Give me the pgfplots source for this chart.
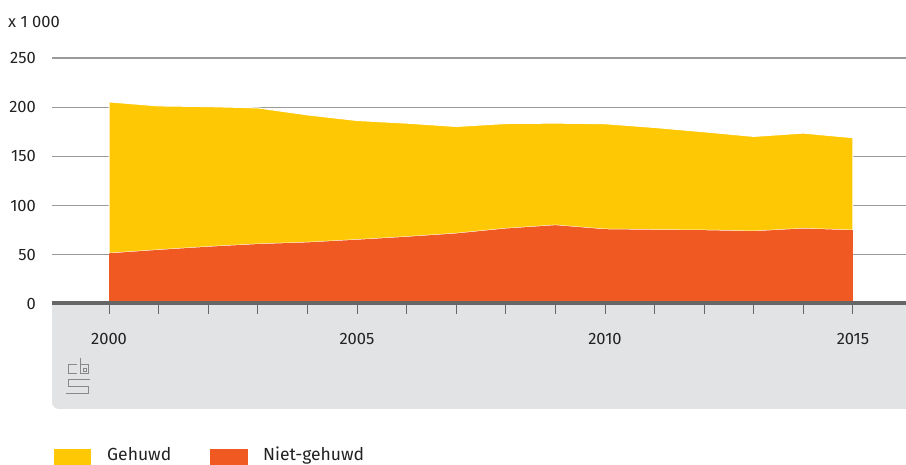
\documentclass[border=0pt]{standalone}
\usepackage{fontspec}
\setmainfont{Fira Sans}
\usepackage{pgfplots}
\pgfplotsset{compat=1.18}
\definecolor{cbsyellow}{HTML}{FFC805}
\definecolor{cbsorange}{HTML}{F05A22}
\definecolor{band}{HTML}{E2E3E5}
\definecolor{axisdark}{HTML}{666666}
\definecolor{gridg}{HTML}{9A9A9A}
\definecolor{txt}{HTML}{222222}
\definecolor{logog}{HTML}{888888}
\definecolor{logoin}{HTML}{EDEDED}
\begin{document}
\fontsize{16.5}{19}\selectfont
\begin{tikzpicture}[x=1pt,y=1pt]
\useasboundingbox (0pt,0pt) rectangle (906pt,464pt);
% grey band under the axis
\fill[band] (52pt,162pt) [rounded corners=7pt] -- (52pt,55pt) [sharp corners] -- (906pt,55pt) -- (906pt,162pt) -- cycle;
% cbs logo
\begin{scope}[draw=logog, line width=1pt, double=logoin, double distance=2.4pt]
\draw (77pt,99pt) -- (68pt,99pt) -- (68pt,90pt) -- (77pt,90pt);
\draw (80pt,106pt) -- (80pt,90pt) -- (88.5pt,90pt) -- (88.5pt,99pt) -- (80pt,99pt);
\draw (90pt,84pt) -- (68pt,84pt) -- (68pt,77pt) -- (88.5pt,77pt) -- (88.5pt,70pt) -- (66pt,70pt);
\end{scope}
\draw[logog, line width=0.9pt] (83pt,96pt) rectangle (86pt,93pt);
\begin{axis}[
  at={(52pt,160pt)}, anchor=south west, scale only axis,
  width=854pt, height=246pt,
  xmin=1998.85, xmax=2016.07, ymin=0, ymax=250,
  axis line style={draw=none},
  ytick={0,50,100,150,200,250},
  ymajorgrids, grid style={gridg, line width=1.2pt},
  xtick={2000,2005,2010,2015},
  minor xtick={2001,2002,2003,2004,2006,2007,2008,2009,2011,2012,2013,2014},
  tick align=outside, xtick pos=bottom, ytick pos=left,
  ytick style={draw=none},
  xtick style={axisdark, line width=0.9pt},
  minor tick style={axisdark, line width=0.9pt},
  major tick length=10pt, minor tick length=10pt,
  /pgf/number format/1000 sep={},
  /pgf/number format/assume math mode=true,
  ticklabel style={text=txt, font=\fontsize{16.5}{19}\selectfont},
  xticklabel style={anchor=center, yshift=-25pt},
  yticklabel style={anchor=east, inner sep=0pt, xshift=-6pt},
  stack plots=y,
  clip=false,
]
\addplot[fill=cbsorange, draw=none] coordinates {
(2000,51.5) (2001,55) (2002,58.2) (2003,60.9) (2004,62.6) (2005,65.3)
(2006,68.3) (2007,71.7) (2008,76.7) (2009,80.1) (2010,76) (2011,75.4)
(2012,75) (2013,74) (2014,76.7) (2015,75)} \closedcycle;
\addplot[fill=cbsyellow, draw=white, line width=1pt] coordinates {
(2000,153.9) (2001,146.3) (2002,142.4) (2003,138.4) (2004,129.6) (2005,121.2)
(2006,115.5) (2007,108.7) (2008,106.7) (2009,103.7) (2010,107.2) (2011,104)
(2012,100) (2013,96.3) (2014,97) (2015,94)} \closedcycle;
\end{axis}
\fill[axisdark] (52pt,159.3pt) rectangle (906pt,163.4pt);
% unit label
\node[anchor=base west, inner sep=0pt, text=txt] at (8pt,436pt) {x 1 000};
% legend
\fill[cbsyellow] (54pt,-4pt) rectangle (91pt,15pt);
\node[anchor=base west, inner sep=0pt, text=txt, font=\fontsize{17.5}{20}\selectfont] at (107pt,3pt) {Gehuwd};
\fill[cbsorange] (210pt,-4pt) rectangle (248pt,15pt);
\node[anchor=base west, inner sep=0pt, text=txt, font=\fontsize{17.5}{20}\selectfont] at (263pt,3pt) {Niet-gehuwd};
\end{tikzpicture}
\end{document}
